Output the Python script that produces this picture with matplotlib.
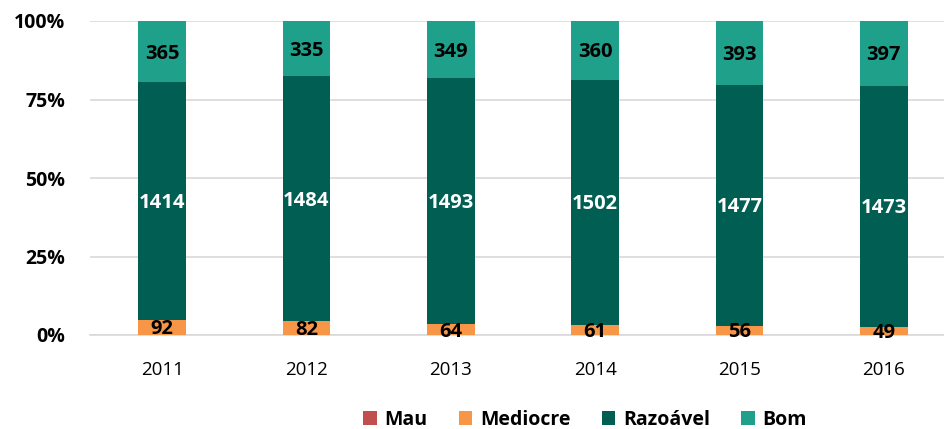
import matplotlib
matplotlib.use("Agg")
import matplotlib.pyplot as plt
import numpy as np

years = ["2011", "2012", "2013", "2014", "2015", "2016"]
mau = [0, 0, 0, 0, 0, 0]
mediocre = [92, 82, 64, 61, 56, 49]
razoavel = [1414, 1484, 1493, 1502, 1477, 1473]
bom = [365, 335, 349, 360, 393, 397]

series = [("Mau", mau, "#C0504D", "black"),
          ("Mediocre", mediocre, "#F79646", "black"),
          ("Razoável", razoavel, "#005E52", "white"),
          ("Bom", bom, "#1FA08B", "black")]

plt.rcParams['font.family'] = ['Open Sans', 'DejaVu Sans']

fig = plt.figure(figsize=(9.45, 4.29), dpi=100)
ax = fig.add_axes([90/945, 1-335/429, (956-90)/945, (335-21)/429])

totals = np.array(mau) + np.array(mediocre) + np.array(razoavel) + np.array(bom)
x = np.arange(len(years))
bottom = np.zeros(len(years))
handles = []
for name, vals, color, tcolor in series:
    v = np.array(vals, dtype=float)
    frac = v / totals * 100
    h = ax.bar(x, frac, 0.33, bottom=bottom, color=color, label=name, zorder=3)
    handles.append(h)
    if name != "Mau":
        for xi, b, f, val in zip(x, bottom, frac, vals):
            ax.text(xi, b + f/2 - 0.6, str(val), ha="center", va="center", color=tcolor,
                    fontsize=14.5, fontweight="bold", zorder=4)
    bottom += frac

ax.set_xlim(-0.5, 5.5)
ax.set_ylim(0, 100)
ax.set_yticks([0, 25, 50, 75, 100])
ax.set_yticklabels(["0%", "25%", "50%", "75%", "100%"], fontsize=14, fontweight="bold")
ax.set_xticks(x)
ax.set_xticklabels(years, fontsize=13.5)
ax.grid(axis="y", color="#D9D9D9", linewidth=1.2, zorder=0)
for s in ["top", "right", "left"]:
    ax.spines[s].set_visible(False)
ax.spines["bottom"].set_color("#D9D9D9")
ax.spines["bottom"].set_linewidth(1.2)
ax.tick_params(axis="both", length=0)
ax.tick_params(axis="y", pad=18)
ax.tick_params(axis="x", pad=19)

leg = fig.legend(handles=handles, labels=[s[0] for s in series], loc="center",
                 bbox_to_anchor=(585/945, 1-420/429), ncol=4, frameon=False,
                 prop={"size": 14, "weight": "bold"}, handlelength=0.7, handleheight=0.7,
                 columnspacing=1.6, handletextpad=0.4)

fig.savefig("out.png", dpi=100)
